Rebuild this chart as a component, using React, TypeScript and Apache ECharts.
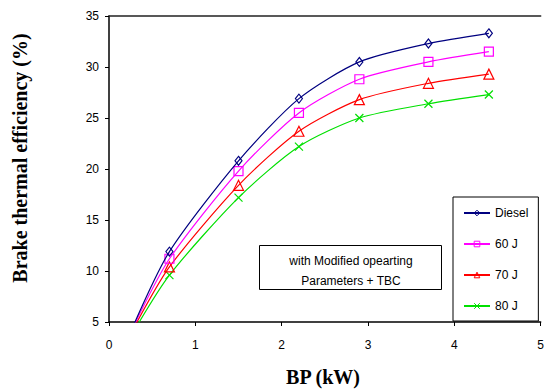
import React, { useEffect, useRef } from "react";
import * as echarts from "echarts";

const bp = [0.28, 0.7, 1.5, 2.2, 2.9, 3.7, 4.4];
const diesel = [4.6, 11.9, 20.8, 26.9, 30.5, 32.3, 33.3];
const j60 = [4.5, 11.2, 19.8, 25.5, 28.8, 30.5, 31.5];
const j70 = [4.3, 10.4, 18.4, 23.7, 26.8, 28.4, 29.3];
const j80 = [4.0, 9.6, 17.2, 22.2, 25.0, 26.4, 27.3];
const seriesNames = ["Diesel", "60 J", "70 J", "80 J"];
const xTicks = [0, 1, 2, 3, 4, 5];

const colors = ["#000080", "#FF00FF", "#FF0000", "#00E000"];
const symbols = [
  "diamond",
  "rect",
  "triangle",
  "path://M0,0L10,10M10,0L0,10",
];
const sizes: any[] = [[7, 9], 9, 10, 8];

export default function App() {
  const ref = useRef<HTMLDivElement>(null);
  useEffect(() => {
    document.body.style.margin = "0";
    const chart = echarts.init(ref.current!, null, { renderer: "svg" });
    const all = [diesel, j60, j70, j80];
    const series = all.map((vals, si) => ({
      name: seriesNames[si],
      type: "line",
      smooth: 0.25,
      data: vals.map((v, i) =>
        i === 0 ? { value: [bp[i], v], symbol: "none" } : [bp[i], v]
      ),
      symbol: symbols[si],
      symbolSize: sizes[si],
      color: colors[si],
      lineStyle: { color: colors[si], width: 1.2 },
      itemStyle: { color: "rgba(255,255,255,0)", borderColor: colors[si], borderWidth: 1.2 },
      emphasis: { disabled: true },
      z: 10 - si,
    }));
    chart.setOption({
      animation: false,
      grid: { left: 109, top: 16, right: 0, bottom: 69, containLabel: false },
      xAxis: [
        {
          type: "value",
          min: 0,
          max: 5,
          interval: 1,
          axisLine: { show: true, onZero: false, lineStyle: { color: "#000", width: 1.5 } },
          axisTick: { show: true, inside: false, length: 4, lineStyle: { color: "#000" } },
          axisLabel: {
            margin: 17,
            fontSize: 12,
            fontFamily: "Liberation Sans",
            color: "#000",
            formatter: (v: number) => (xTicks.includes(v) ? String(v) : ""),
          },
          splitLine: { show: false },
        },
        {
          type: "value",
          position: "top",
          min: 0,
          max: 5,
          axisLine: { show: true, lineStyle: { color: "#222", width: 1.5 } },
          axisTick: { show: false },
          axisLabel: { show: false },
          splitLine: { show: false },
        },
      ],
      yAxis: {
        type: "value",
        min: 5,
        max: 35,
        interval: 5,
        axisLine: { show: true, lineStyle: { color: "#000", width: 1.5 } },
        axisTick: { show: true, inside: false, length: 4, lineStyle: { color: "#000" } },
        axisLabel: { margin: 10, fontSize: 12, fontFamily: "Liberation Sans", color: "#000" },
        splitLine: { show: false },
      },
      legend: {
        orient: "vertical",
        left: 453,
        top: 197,
        width: 60,
        padding: [10, 10, 9, 10],
        itemWidth: 26,
        itemHeight: 7,
        itemGap: 19,
        borderColor: "#000",
        borderWidth: 1,
        itemStyle: { color: "rgba(255,255,255,0)", borderWidth: 1 },
        textStyle: { fontSize: 12, fontFamily: "Liberation Sans", color: "#000" },
        data: seriesNames,
        selectedMode: false,
      },
      graphic: [
        {
          type: "rect",
          left: 259,
          top: 245,
          shape: { width: 182, height: 44 },
          style: { fill: "#fff", stroke: "#000", lineWidth: 1 },
          z: 100,
        },
        {
          type: "text",
          x: 351,
          y: 261,
          style: {
            text: "with Modified opearting",
            fontSize: 12,
            fontFamily: "Liberation Sans",
            fill: "#000",
            align: "center",
            verticalAlign: "middle",
          },
          z: 101,
        },
        {
          type: "text",
          x: 351,
          y: 281,
          style: {
            text: "Parameters + TBC",
            fontSize: 12,
            fontFamily: "Liberation Sans",
            fill: "#000",
            align: "center",
            verticalAlign: "middle",
          },
          z: 101,
        },
        {
          type: "text",
          x: 20,
          y: 158,
          rotation: Math.PI / 2,
          style: {
            text: "Brake thermal efficiency (%)",
            fontSize: 20,
            fontWeight: "bold",
            fontFamily: "Liberation Serif",
            fill: "#000",
            align: "center",
            verticalAlign: "middle",
          },
        },
        {
          type: "text",
          x: 323,
          y: 377,
          style: {
            text: "BP (kW)",
            fontSize: 20,
            fontWeight: "bold",
            fontFamily: "Liberation Serif",
            fill: "#000",
            align: "center",
            verticalAlign: "middle",
          },
        },
      ],
      series,
    });
    return () => chart.dispose();
  }, []);
  return <div ref={ref} style={{ width: 547, height: 391 }} />;
}
